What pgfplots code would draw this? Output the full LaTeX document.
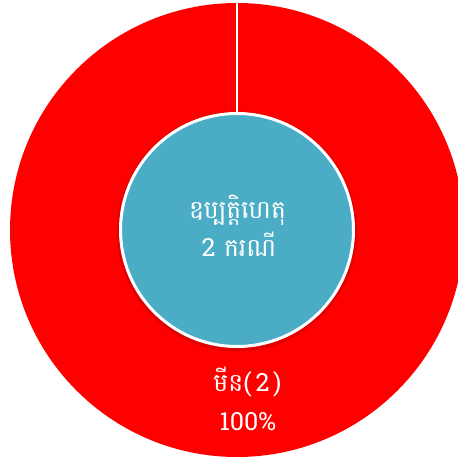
\documentclass[border=0pt]{standalone}
\usepackage{pgfplots}
\pgfplotsset{compat=1.18}
\usepackage{pgfplotstable}
\usepackage{fontspec}
\setmainfont{Battambang}[Script=Khmer]
\newfontfamily\khmer[Script=Khmer]{Battambang}
\definecolor{ringred}{RGB}{255,0,0}
\definecolor{hub}{RGB}{75,172,198}
\pgfplotstableread{
value
2
}\data
\begin{document}
\begin{tikzpicture}
\pgfplotstablegetelem{0}{value}\of\data
\pgfmathtruncatemacro\v{\pgfplotsretval}
\pgfmathtruncatemacro\total{\v}
\pgfmathsetmacro\ang{360*\v/\total}
\pgfmathtruncatemacro\pct{round(100*\v/\total)}
\begin{axis}[scale only axis, width=458pt, height=459pt,
  xmin=-237, xmax=221, ymin=-229, ymax=230, hide axis, clip=true]
\fill[ringred] (axis cs:0,0) -- (axis cs:0,227) arc[start angle=90, end angle=90-\ang, radius=227pt] -- cycle;
\draw[white, line width=1.3pt] (axis cs:0,0) -- (axis cs:0,227);
\fill[black, opacity=0.12] (axis cs:0,-1.5) circle[radius=120pt];
\filldraw[fill=hub, draw=white, line width=3pt] (axis cs:0,0) circle[radius=116.5pt];
\node[anchor=base, text=white, font=\khmer\fontsize{25}{25}\selectfont] at (axis cs:0.5,11) {ឧប្បត្តិហេតុ};
\node[anchor=base, text=white, font=\khmer\fontsize{25}{25}\selectfont] at (axis cs:2,-27) {2 ករណី};
\node[anchor=base, text=white, font=\khmer\fontsize{25}{25}\selectfont] at (axis cs:10.5,-162) {មីន(\,\v\,)};
\node[anchor=base, text=white, font=\khmer\fontsize{25}{25}\selectfont] at (axis cs:11,-201) {\pct\%};
\end{axis}
\pgfresetboundingbox
\path[use as bounding box] (current axis.south west) rectangle (current axis.north east);
\end{tikzpicture}
\end{document}
